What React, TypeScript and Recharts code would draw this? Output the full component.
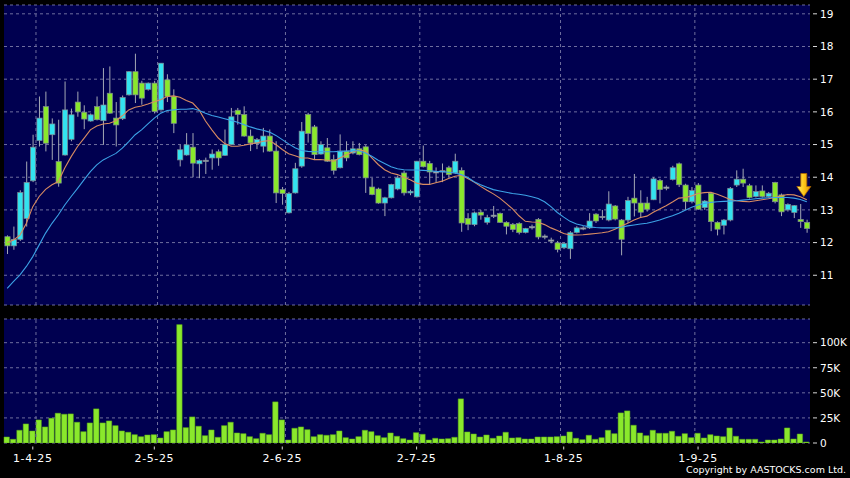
import React from 'react';
import {
  ComposedChart, Bar, Line, XAxis, YAxis, CartesianGrid, ReferenceLine, ReferenceDot,
} from 'recharts';

const NAVY = '#000050';
const GRID = '#6e6e9e';
const CYAN = '#33e3f0';
const LIME = '#8ae82c';
const WICK = '#a4a8b4';
const EDGE = '#7e8a92';
const MA_FAST = '#d98c62';
const MA_SLOW = '#3ca2e6';
const FONT = '"DejaVu Sans", Verdana, sans-serif';

// one entry per trading day, 25-3-25 .. mid Sep 25
const tradingDays = Array.from({ length: 126 }, (_, i) => i + 1);

const tickDays = [5, 24, 44, 65, 88, 109];
const tickLabels = ['1-4-25', '2-5-25', '2-6-25', '2-7-25', '1-8-25', '1-9-25'];
const monthStartDays = [6, 25, 45, 66, 88, 109];

const priceTicks = [11, 12, 13, 14, 15, 16, 17, 18, 19];
const volumeTicks = [0, 25000, 50000, 75000, 100000];

const opens = [
  12.18, 11.90, 12.10, 12.74, 13.89, 15.12, 16.16, 15.30, 14.48, 14.68,
  15.16, 16.30, 15.99, 15.72, 16.16, 15.73, 16.57, 15.81, 15.79, 16.52,
  17.23, 16.88, 16.69, 16.88, 16.06, 16.98, 16.47, 14.53, 14.68, 14.92,
  14.41, 14.48, 14.59, 14.78, 14.67, 15.00, 16.05, 15.92, 15.26, 15.03,
  14.95, 15.26, 14.80, 13.62, 12.91, 13.52, 14.34, 15.92, 15.54, 14.71,
  14.90, 14.54, 14.29, 14.80, 14.74, 14.87, 14.93, 13.70, 13.64, 13.21,
  13.37, 13.64, 14.13, 13.52, 13.40, 14.49, 14.42, 14.13, 14.16, 14.29,
  14.13, 14.21, 12.74, 12.55, 12.93, 12.62, 12.80, 12.89, 12.62, 12.56,
  12.58, 12.31, 12.45, 12.71, 12.17, 12.08, 11.99, 11.84, 11.81, 12.31,
  12.43, 12.45, 12.87, 12.78, 12.69, 13.12, 12.69, 12.69, 13.36, 13.21,
  13.21, 13.31, 13.90, 13.66, 13.93, 14.41, 13.76, 13.25, 13.76, 13.07,
  13.51, 12.62, 12.53, 12.69, 13.76, 13.94, 13.74, 13.41, 13.58, 13.41,
  13.84, 13.46, 13.00, 12.92, 12.71, 12.62,
];

const highs = [
  12.22, 12.49, 13.60, 14.48, 15.30, 16.47, 16.62, 15.80, 15.76, 16.93,
  16.10, 16.62, 16.20, 15.95, 16.47, 17.34, 17.39, 16.30, 16.50, 17.25,
  17.78, 16.95, 16.90, 16.95, 17.49, 17.15, 16.69, 14.99, 15.35, 15.35,
  14.55, 14.60, 14.85, 14.85, 15.46, 16.12, 16.12, 16.17, 15.46, 15.20,
  15.51, 15.46, 15.10, 13.70, 13.55, 14.44, 15.69, 15.97, 15.60, 15.10,
  15.20, 14.69, 15.31, 15.10, 15.10, 15.05, 14.98, 13.98, 13.68, 13.40,
  13.80, 14.05, 14.20, 13.62, 14.50, 14.97, 14.50, 14.30, 14.42, 14.35,
  14.72, 14.30, 12.90, 12.95, 13.00, 12.85, 13.12, 12.92, 12.65, 12.60,
  12.62, 12.45, 12.55, 12.75, 12.25, 12.15, 12.05, 12.00, 12.35, 12.50,
  12.50, 12.90, 12.90, 13.00, 13.57, 13.15, 12.72, 13.40, 14.10, 13.60,
  13.40, 14.00, 13.95, 13.75, 14.35, 14.45, 13.80, 13.70, 13.82, 13.30,
  13.55, 12.65, 12.72, 13.70, 14.21, 14.26, 13.80, 13.75, 13.75, 13.55,
  13.86, 13.50, 13.20, 13.15, 13.18, 12.70,
];

const lows = [
  11.65, 11.78, 12.05, 12.49, 13.85, 14.94, 14.79, 14.53, 13.71, 14.66,
  15.10, 15.85, 15.47, 15.70, 15.74, 14.99, 15.94, 14.94, 15.75, 16.50,
  16.27, 16.22, 16.65, 15.95, 16.04, 16.30, 15.35, 14.33, 14.66, 14.00,
  13.97, 14.10, 14.23, 14.35, 14.65, 14.98, 15.61, 15.24, 14.80, 14.86,
  14.76, 14.78, 13.21, 13.16, 12.89, 13.50, 14.29, 15.06, 14.54, 14.69,
  14.47, 14.08, 14.27, 14.49, 14.70, 14.67, 13.52, 13.45, 13.19, 12.81,
  13.35, 13.60, 13.44, 13.45, 13.38, 14.30, 13.78, 13.83, 13.85, 14.00,
  14.10, 12.33, 12.38, 12.50, 12.70, 12.55, 12.75, 12.60, 12.25, 12.32,
  12.25, 12.28, 12.40, 12.10, 12.10, 11.98, 11.70, 11.80, 11.50, 12.28,
  12.38, 12.42, 12.60, 12.70, 12.65, 12.68, 11.61, 12.60, 12.80, 12.76,
  12.95, 13.30, 13.20, 13.60, 13.90, 13.70, 13.00, 13.20, 13.00, 13.00,
  12.35, 12.22, 12.25, 12.65, 13.70, 13.70, 13.35, 13.38, 13.38, 13.38,
  13.20, 12.81, 12.95, 12.75, 12.45, 12.30,
];

const closes = [
  11.90, 12.10, 13.53, 13.84, 14.92, 15.81, 15.04, 15.63, 13.82, 16.06,
  15.91, 16.00, 15.78, 15.91, 15.76, 16.21, 15.96, 15.60, 16.44, 17.23,
  16.52, 16.42, 16.88, 16.01, 17.49, 16.47, 15.65, 14.84, 14.99, 14.43,
  14.51, 14.52, 14.71, 14.59, 15.00, 15.85, 15.92, 15.26, 15.05, 15.15,
  15.26, 14.80, 13.52, 13.50, 13.50, 14.26, 15.41, 15.34, 14.69, 15.00,
  14.49, 14.21, 14.80, 14.59, 14.87, 14.69, 13.98, 13.47, 13.21, 13.37,
  13.78, 13.98, 13.52, 13.57, 14.49, 14.32, 14.16, 14.17, 14.20, 14.08,
  14.49, 12.60, 12.56, 12.91, 12.84, 12.77, 12.84, 12.62, 12.50, 12.40,
  12.31, 12.43, 12.49, 12.17, 12.20, 12.07, 11.79, 11.97, 12.30, 12.45,
  12.45, 12.66, 12.66, 12.80, 13.18, 12.72, 12.10, 13.29, 13.21, 12.93,
  13.02, 13.95, 13.62, 13.70, 14.29, 13.77, 13.25, 13.59, 13.02, 13.27,
  12.64, 12.41, 12.69, 13.66, 13.94, 13.82, 13.38, 13.56, 13.41, 13.51,
  13.25, 12.94, 13.17, 13.13, 12.64, 12.43,
];

const ma10 = [
  12.00, 12.08, 12.23, 12.59, 13.10, 13.41, 13.63, 13.77, 13.87, 14.28,
  14.63, 14.94, 15.19, 15.45, 15.57, 15.63, 15.65, 15.73, 15.88, 16.06,
  16.14, 16.18, 16.24, 16.31, 16.37, 16.47, 16.49, 16.45, 16.35, 16.27,
  16.06, 15.72, 15.45, 15.20, 15.03, 14.95, 14.95, 14.98, 15.02, 15.05,
  15.10, 15.12, 15.00, 14.85, 14.72, 14.66, 14.59, 14.59, 14.54, 14.54,
  14.52, 14.49, 14.59, 14.69, 14.77, 14.83, 14.80, 14.59, 14.39, 14.23,
  14.13, 14.08, 14.00, 13.92, 13.82, 13.78, 13.78, 13.83, 13.88, 13.96,
  14.03, 14.06, 13.96, 13.85, 13.72, 13.60, 13.49, 13.36, 13.20, 13.03,
  12.82, 12.65, 12.63, 12.62, 12.55, 12.45, 12.37, 12.28, 12.23, 12.23,
  12.24, 12.26, 12.28, 12.30, 12.33, 12.41, 12.51, 12.59, 12.69, 12.77,
  12.81, 12.93, 13.03, 13.13, 13.24, 13.36, 13.38, 13.43, 13.50, 13.53,
  13.54, 13.48, 13.40, 13.32, 13.28, 13.26, 13.25, 13.28, 13.31, 13.34,
  13.38, 13.43, 13.47, 13.46, 13.40, 13.31,
];

const ma20 = [
  10.60, 10.81, 11.01, 11.27, 11.57, 11.93, 12.29, 12.59, 12.85, 13.15,
  13.41, 13.66, 13.92, 14.17, 14.38, 14.53, 14.63, 14.73, 14.89, 15.09,
  15.30, 15.45, 15.63, 15.81, 15.96, 16.04, 16.06, 16.08, 16.08, 16.10,
  16.04, 15.96, 15.89, 15.84, 15.79, 15.74, 15.68, 15.61, 15.54, 15.48,
  15.44, 15.38, 15.28, 15.15, 15.02, 14.90, 14.82, 14.79, 14.78, 14.78,
  14.78, 14.78, 14.79, 14.80, 14.81, 14.81, 14.74, 14.64, 14.52, 14.42,
  14.32, 14.26, 14.23, 14.22, 14.22, 14.21, 14.20, 14.18, 14.17, 14.15,
  14.13, 14.08, 13.99, 13.86, 13.77, 13.69, 13.62, 13.58, 13.54, 13.50,
  13.48, 13.45, 13.40, 13.35, 13.25, 13.10, 12.92, 12.78, 12.65, 12.57,
  12.52, 12.48, 12.46, 12.45, 12.45, 12.45, 12.47, 12.51, 12.54, 12.57,
  12.59, 12.64, 12.69, 12.76, 12.82, 12.90, 12.99, 13.08, 13.15, 13.20,
  13.23, 13.25, 13.26, 13.27, 13.28, 13.30, 13.32, 13.34, 13.36, 13.37,
  13.38, 13.38, 13.38, 13.36, 13.32, 13.25,
];

// shares traded, in thousands
const volumeK = [
  6, 3.7, 12.7, 19, 12, 23, 16, 24.7, 29.7, 28.7,
  29, 20.7, 11.3, 20, 34, 20, 22, 17.3, 12, 10.7,
  8.3, 6.3, 8, 8.3, 5, 11.3, 13, 118, 15.3, 26,
  16.7, 7.3, 13, 5.7, 17.3, 20.7, 10, 9.3, 6.3, 4.3,
  9.7, 8.3, 41, 23, 3, 14.7, 16, 13.3, 6.3, 8.3,
  7.7, 8.3, 12, 5.3, 4, 6.3, 12.7, 11.3, 7.3, 5.3,
  10, 6.7, 4.3, 3, 10.3, 8.7, 3, 4.7, 4, 4.3,
  5.7, 44, 11, 9, 6, 8, 4.7, 7, 10.7, 5,
  5.3, 4, 4, 6, 6, 6, 6.3, 7, 11, 4.7,
  3.3, 7.7, 3.7, 5.3, 12.7, 9.3, 30, 32, 17.7, 10,
  7.3, 12.7, 9.7, 9.7, 11.7, 6.7, 9.3, 5.3, 9.7, 5,
  8.3, 7, 6.3, 15, 6.7, 3.7, 3.7, 3.7, 1, 3,
  3, 4, 15, 4, 9, 1,
];

const arrowDay = 126;
const arrowPrice = 13.41;

const rows = tradingDays.map((day, i) => ({
  day,
  open: opens[i],
  high: highs[i],
  low: lows[i],
  close: closes[i],
  range: [lows[i], highs[i]],
  ma10: ma10[i],
  ma20: ma20[i],
  vol: volumeK[i] * 1000,
}));

function Candle(props: any) {
  const { x, width, payload } = props;
  let { y, height } = props;
  if (height < 0) { y += height; height = -height; }
  const { open, close, high, low } = payload;
  const cx = x + width / 2;
  const k = height / (high - low);
  const top = y + (high - Math.max(open, close)) * k;
  const bot = y + (high - Math.min(open, close)) * k;
  const flat = Math.abs(close - open) < 0.05;
  const fill = flat ? '#b4b8c4' : close > open ? CYAN : LIME;
  return (
    <g>
      <line x1={cx} x2={cx} y1={y} y2={y + height} stroke={WICK} strokeWidth={1} />
      <rect x={cx - 2.6} y={top} width={5.2} height={Math.max(bot - top, 1.2)}
        fill={fill} stroke={EDGE} strokeWidth={0.7} />
    </g>
  );
}

function DownArrow(props: any) {
  const { cx, cy } = props;
  const tx = cx - 3;
  return (
    <g>
      <defs>
        <linearGradient id="goldArrow" x1="0" x2="1" y1="0" y2="0">
          <stop offset="0" stopColor="#fff070" />
          <stop offset="0.5" stopColor="#ffc81a" />
          <stop offset="1" stopColor="#e09000" />
        </linearGradient>
      </defs>
      <path
        d={`M${tx - 3} ${cy - 23} L${tx + 3} ${cy - 23} L${tx + 3} ${cy - 10} L${tx + 7} ${cy - 10} L${tx} ${cy} L${tx - 7} ${cy - 10} L${tx - 3} ${cy - 10} Z`}
        fill="url(#goldArrow)" stroke="#b06800" strokeWidth={0.8} />
    </g>
  );
}

function RightTick(props: any) {
  const { x, y, payload, fmt } = props;
  return (
    <g>
      <line x1={x - 7} x2={x - 3} y1={y} y2={y} stroke="#d8d8d8" strokeWidth={1} />
      <text x={x} y={y} dy="0.36em" fill="#ffffff" fontSize={10.5} fontFamily={FONT} textAnchor="start">
        {fmt(payload.value)}
      </text>
    </g>
  );
}

function BottomTick(props: any) {
  const { x, y, payload } = props;
  const label = tickLabels[tickDays.indexOf(payload.value)];
  return (
    <g>
      <line x1={x} x2={x} y1={y + 3.5} y2={y + 6.5} stroke="#d8d8d8" strokeWidth={1} />
      <text x={x} y={y + 19} fill="#ffffff" fontSize={11} fontFamily={FONT} textAnchor="middle" letterSpacing={0.6}>
        {label}
      </text>
    </g>
  );
}

const fmtPrice = (v: number) => String(v);
const fmtVol = (v: number) => (v === 0 ? '0' : `${v / 1000}K`);

export default function App() {
  return (
    <div style={{ position: 'fixed', left: 0, top: 0, width: 850, height: 478, background: '#000', overflow: 'hidden', fontFamily: FONT }}>
      <div style={{ position: 'absolute', left: 0, top: 0 }}>
        <ComposedChart width={850} height={310} data={rows} margin={{ top: 5, right: 0, bottom: 5, left: 4 }} barCategoryGap={0}>
          <CartesianGrid vertical={false} stroke={GRID} strokeDasharray="3 3" fill={NAVY} fillOpacity={1} />
          <XAxis dataKey="day" hide />
          <YAxis orientation="right" width={40} domain={[10.09, 19.27]} ticks={priceTicks} allowDataOverflow
            axisLine={false} tickLine={false} tickSize={0} tickMargin={10}
            tick={(p: any) => <RightTick {...p} fmt={fmtPrice} />} />
          {monthStartDays.map((d) => (
            <ReferenceLine key={d} x={d} position="start" stroke={GRID} strokeDasharray="3 3" />
          ))}
          <Bar dataKey="range" barSize={5} shape={(p: any) => <Candle {...p} />} isAnimationActive={false} />
          <Line dataKey="ma10" type="linear" stroke={MA_FAST} strokeWidth={1.1} dot={false} activeDot={false} isAnimationActive={false} />
          <Line dataKey="ma20" type="linear" stroke={MA_SLOW} strokeWidth={1.1} dot={false} activeDot={false} isAnimationActive={false} />
          <ReferenceDot x={arrowDay} y={arrowPrice} r={0} shape={(p: any) => <DownArrow {...p} />} />
        </ComposedChart>
      </div>
      <div style={{ position: 'absolute', left: 0, top: 310 }}>
        <ComposedChart width={850} height={168} data={rows} margin={{ top: 9, right: 0, bottom: 0, left: 4 }} barCategoryGap={0}>
          <CartesianGrid vertical={false} stroke={GRID} strokeDasharray="3 3" fill={NAVY} fillOpacity={1} />
          <XAxis dataKey="day" ticks={tickDays} interval={0} height={35} axisLine={false} tickLine={false}
            tickSize={0} tickMargin={0} tick={(p: any) => <BottomTick {...p} />} />
          <YAxis orientation="right" width={40} domain={[0, 123600]} ticks={volumeTicks} allowDataOverflow
            axisLine={false} tickLine={false} tickSize={0} tickMargin={10}
            tick={(p: any) => <RightTick {...p} fmt={fmtVol} />} />
          {monthStartDays.map((d) => (
            <ReferenceLine key={d} x={d} position="start" stroke={GRID} strokeDasharray="3 3" />
          ))}
          <Bar dataKey="vol" barSize={5.4} fill={LIME} stroke="#58a814" strokeWidth={0.5} isAnimationActive={false} />
        </ComposedChart>
      </div>
      <div style={{ position: 'absolute', right: 4, top: 464, color: '#fff', fontSize: 9.5, fontFamily: FONT, lineHeight: '12px' }}>
        Copyright by AASTOCKS.com Ltd.
      </div>
    </div>
  );
}
